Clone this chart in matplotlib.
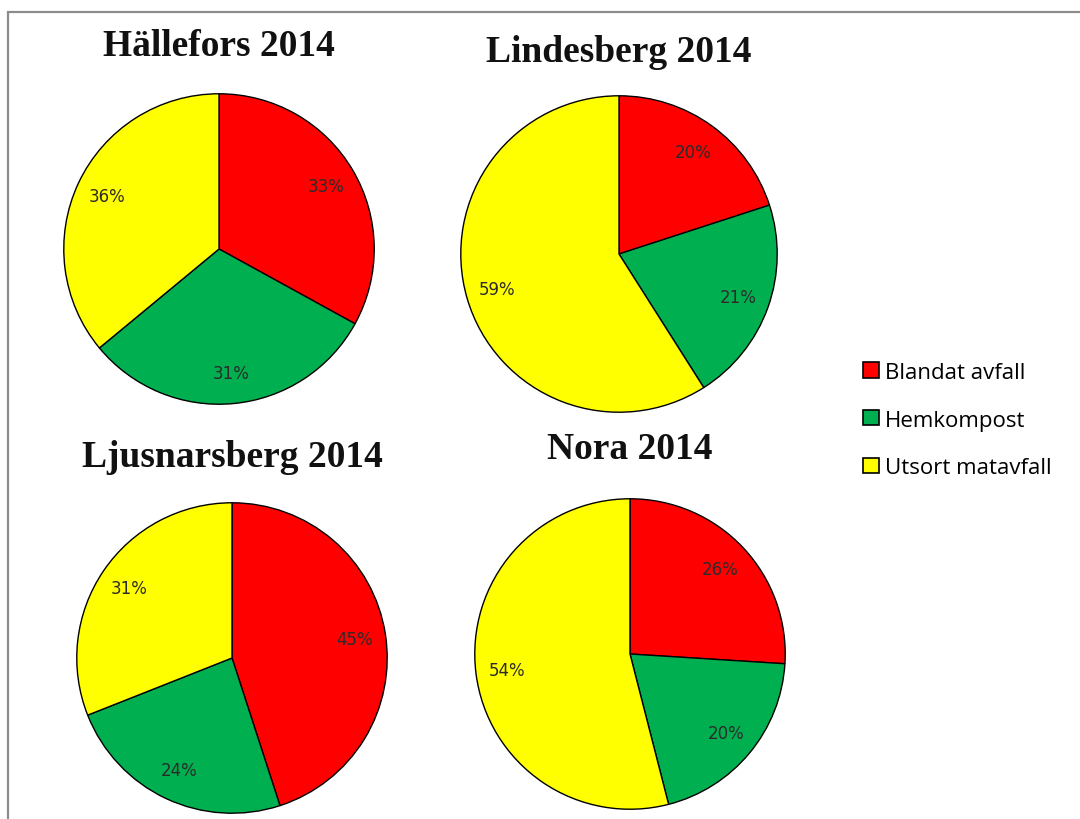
###############################################################################
#preparativos

import numpy as np
import matplotlib.pyplot as plt
from matplotlib.patches import Rectangle

#%%
#dados

kommuner = ['Hällefors 2014', 'Lindesberg 2014', 'Ljusnarsberg 2014', 'Nora 2014']
kategorier = ['Blandat avfall', 'Hemkompost', 'Utsort matavfall']

hallefors = [33, 31, 36]
lindesberg = [20, 21, 59]
ljusnarsberg = [45, 24, 31]
nora = [26, 20, 54]

andelar = [hallefors, lindesberg, ljusnarsberg, nora]

farger = ['#FF0000', '#00B050', '#FFFF00']

#%%
#layout (pixels da imagem: centro x, centro y, raio, titulo y)

W, H = 1080, 820
layout = [
        (219, 250, 156, 47),
        (619, 255, 159, 53),
        (232, 659, 156, 458),
        (630, 655, 156, 450),
        ]

fig = plt.figure(figsize=(W / 100, H / 100), dpi=100)

#moldura cinza (lado direito e de baixo ficam fora da imagem)
fig.patches.append(Rectangle((8 / W, -0.05), 1.1, (H - 13) / H + 0.05,
                             transform=fig.transFigure, fill=False,
                             edgecolor='#8c8c8c', linewidth=1.6))

for nome, valores, (cx, cy, r, ty) in zip(kommuner, andelar, layout):
    ax = fig.add_axes([(cx - r) / W, (H - cy - r) / H, 2 * r / W, 2 * r / H])
    ax.pie(valores,
           colors=farger,
           startangle=90,
           counterclock=False,
           autopct=lambda p: '{:.0f}%'.format(p),
           pctdistance=0.8,
           wedgeprops={'edgecolor': 'black', 'linewidth': 1.0},
           textprops={'fontsize': 12, 'color': '#2b2b2b', 'family': 'DejaVu Sans'})
    ax.set_xlim(-1.005, 1.005)
    ax.set_ylim(-1.005, 1.005)
    fig.text(cx / W, (H - ty) / H, nome,
             ha='center', va='center',
             fontsize=27, fontweight='bold', family='Liberation Serif',
             color='#111111')

#%%
#legenda

handles = [Rectangle((0, 0), 1, 1, facecolor=c, edgecolor='black', linewidth=1.2)
           for c in farger]
fig.legend(handles, kategorier,
           loc='center left', bbox_to_anchor=(859 / W, (H - 421) / H),
           frameon=False, handlelength=0.68, handleheight=0.68,
           handletextpad=0.3, labelspacing=1.2, borderpad=0.2, borderaxespad=0,
           prop={'family': 'Open Sans', 'size': 16})

fig.savefig('out.png', dpi=100)
